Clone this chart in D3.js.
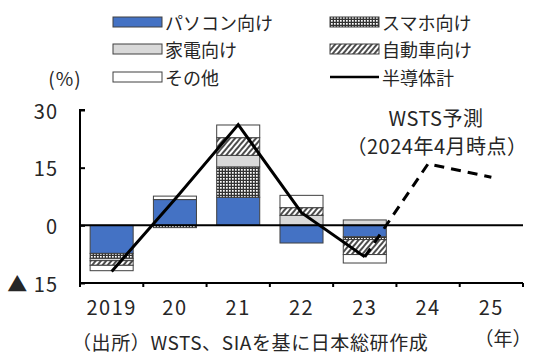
<!DOCTYPE html>
<html>
<head>
<meta charset="utf-8">
<style>
  body { margin: 0; background: #fff; }
  text { font-family: "Noto Sans CJK JP", "Noto Sans", sans-serif; fill: #262626; }
</style>
</head>
<body>
<script src="https://cdn.jsdelivr.net/npm/d3@7"></script>
<script>
var years = ['2019', '20', '21', '22', '23', '24', '25'];
var pcValues = [-7.3, 6.7, 7.3, -4.6, -3.0, 0, 0];
var phoneValues = [-1.3, -0.6, 7.9, 0, -0.7, 0, 0];
var applianceValues = [-0.6, 0, 3.0, 2.6, 1.4, 0, 0];
var autoValues = [-1.2, 0, 4.6, 2.0, -3.9, 0, 0];
var otherValues = [-1.4, 0.9, 3.3, 3.2, -2.2, 0, 0];
var totalValues = [-12.0, 6.8, 26.2, 3.3, -8.2, 16.0, 12.5];
var yTicks = [30, 15, 0, -15];
var yTickLabels = ['30', '15', '0', '▲ 15'];
var seriesNames = ['パソコン向け', 'スマホ向け', '家電向け', '自動車向け', 'その他', '半導体計'];
var keys = ['pc', 'phone', 'appliance', 'auto', 'other'];

var width = 534, height = 357;
var svg = d3.select('body').append('svg')
    .attr('width', width).attr('height', height);

var defs = svg.append('defs');
var dots = defs.append('pattern').attr('id', 'dots')
    .attr('patternUnits', 'userSpaceOnUse').attr('width', 3).attr('height', 3);
dots.append('rect').attr('width', 3).attr('height', 3).attr('fill', '#333');
dots.append('rect').attr('x', 1).attr('y', 1).attr('width', 1.7).attr('height', 1.7).attr('fill', '#fff');

var hatch = defs.append('pattern').attr('id', 'hatch')
    .attr('patternUnits', 'userSpaceOnUse').attr('width', 4).attr('height', 4)
    .attr('patternTransform', 'rotate(40)');
hatch.append('rect').attr('width', 4).attr('height', 4).attr('fill', '#fff');
hatch.append('line').attr('x1', 1).attr('y1', 0).attr('x2', 1).attr('y2', 4)
    .attr('stroke', '#000').attr('stroke-width', 1.4);

var fills = {
    pc: '#4472c4',
    phone: 'url(#dots)',
    appliance: '#d9d9d9',
    auto: 'url(#hatch)',
    other: '#ffffff'
};

var plot = { left: 80, right: 523, top: 110, bottom: 283 };

var x = d3.scaleBand().domain(years).range([plot.left, plot.right]).padding(0);
var y = d3.scaleLinear().domain([-15, 30]).range([plot.bottom, plot.top]);

var table = years.map(function (yr, i) {
    return { year: yr, pc: pcValues[i], phone: phoneValues[i], appliance: applianceValues[i],
             auto: autoValues[i], other: otherValues[i] };
});
var stacked = d3.stack().keys(keys).offset(d3.stackOffsetDiverging)(table);

var barW = x.bandwidth() * 0.68;
svg.append('g').selectAll('g')
    .data(stacked).enter().append('g')
    .attr('fill', function (d) { return fills[d.key]; })
    .selectAll('rect')
    .data(function (d) { return d.filter(function (p) { return p[1] - p[0] !== 0; }); })
    .enter().append('rect')
    .attr('x', function (d) { return x(d.data.year) + (x.bandwidth() - barW) / 2; })
    .attr('y', function (d) { return y(d[1]); })
    .attr('width', barW)
    .attr('height', function (d) { return y(d[0]) - y(d[1]); })
    .attr('stroke', '#404040').attr('stroke-width', 1);

// axes
svg.append('line')
    .attr('x1', plot.left).attr('x2', plot.right)
    .attr('y1', y(0)).attr('y2', y(0))
    .attr('stroke', '#000').attr('stroke-width', 2);

var yAxis = svg.append('g').attr('transform', 'translate(' + plot.left + ',0)')
    .call(d3.axisRight(y).tickValues(yTicks).tickSize(5).tickFormat(''));
yAxis.selectAll('path, line').attr('stroke', '#000').attr('stroke-width', 2);
yAxis.select('.domain').attr('d', 'M5,' + plot.top + 'H0V' + plot.bottom);

svg.append('g').selectAll('text')
    .data(yTicks).enter().append('text')
    .attr('x', 58).attr('y', function (d) { return y(d); })
    .attr('text-anchor', 'end').attr('dominant-baseline', 'central')
    .style('font-size', '20px').style('letter-spacing', '1px')
    .text(function (d, i) { return yTickLabels[i]; });

var bounds = years.map(function (yr) { return x(yr); }).concat([plot.right]);
var xAxis = svg.append('g');
xAxis.append('line')
    .attr('x1', plot.left).attr('x2', plot.right)
    .attr('y1', plot.bottom).attr('y2', plot.bottom)
    .attr('stroke', '#000').attr('stroke-width', 2);
xAxis.selectAll('.tick').data(bounds).enter().append('line')
    .attr('x1', function (d) { return d; }).attr('x2', function (d) { return d; })
    .attr('y1', plot.bottom).attr('y2', plot.bottom + 4)
    .attr('stroke', '#000').attr('stroke-width', 2);

svg.append('g').selectAll('text')
    .data(years).enter().append('text')
    .attr('x', function (d) { return x(d) + x.bandwidth() / 2; })
    .attr('y', 306)
    .attr('text-anchor', 'middle').attr('dominant-baseline', 'central')
    .style('font-size', '20px').style('letter-spacing', '1.5px')
    .text(function (d) { return d; });

// total line
var line = d3.line()
    .x(function (d, i) { return x(years[i]) + x.bandwidth() / 2; })
    .y(function (d) { return y(d); });
svg.append('path')
    .attr('d', line(totalValues.slice(0, 5)))
    .attr('fill', 'none').attr('stroke', '#000').attr('stroke-width', 3);
var forecastLine = d3.line()
    .x(function (d, i) { return x(years[i + 4]) + x.bandwidth() / 2; })
    .y(function (d) { return y(d); });
svg.append('path')
    .attr('d', forecastLine(totalValues.slice(4)))
    .attr('fill', 'none').attr('stroke', '#000').attr('stroke-width', 3)
    .attr('stroke-dasharray', '10,7');

// annotations
svg.append('text').attr('x', 436).attr('y', 117)
    .attr('text-anchor', 'middle').attr('dominant-baseline', 'central')
    .style('font-size', '20px').style('letter-spacing', '0.5px').text('WSTS予測');
svg.append('text').attr('x', 437).attr('y', 145)
    .attr('text-anchor', 'middle').attr('dominant-baseline', 'central')
    .style('font-size', '20px').style('letter-spacing', '0.5px').text('（2024年4月時点）');

svg.append('text').attr('x', 65).attr('y', 77)
    .attr('text-anchor', 'middle').attr('dominant-baseline', 'central')
    .style('font-size', '19px').style('letter-spacing', '1px').text('(%)');
svg.append('text').attr('x', 503).attr('y', 337)
    .attr('text-anchor', 'middle').attr('dominant-baseline', 'central')
    .style('font-size', '19px').text('（年）');
svg.append('text').attr('x', 72).attr('y', 341)
    .attr('dominant-baseline', 'central')
    .style('font-size', '19px').style('letter-spacing', '0.6px')
    .text('（出所）WSTS、SIAを基に日本総研作成');

// legend
var legendItems = [
    { name: seriesNames[0], key: 'pc', x: 113, y: 22 },
    { name: seriesNames[1], key: 'phone', x: 330, y: 22 },
    { name: seriesNames[2], key: 'appliance', x: 113, y: 49 },
    { name: seriesNames[3], key: 'auto', x: 330, y: 49 },
    { name: seriesNames[4], key: 'other', x: 113, y: 77 },
    { name: seriesNames[5], key: 'total', x: 330, y: 77 }
];
var legend = svg.append('g').selectAll('g')
    .data(legendItems).enter().append('g')
    .attr('transform', function (d) { return 'translate(' + d.x + ',' + d.y + ')'; });
legend.each(function (d) {
    var g = d3.select(this);
    if (d.key === 'total') {
        g.append('line').attr('x1', 0).attr('x2', 49).attr('y1', 0).attr('y2', 0)
            .attr('stroke', '#000').attr('stroke-width', 2.5);
    } else {
        g.append('rect').attr('x', 0).attr('y', -5).attr('width', 49).attr('height', 10)
            .attr('fill', fills[d.key]).attr('stroke', '#404040').attr('stroke-width', 1);
    }
});
legend.append('text')
    .attr('x', 52).attr('y', 0).attr('dominant-baseline', 'central')
    .style('font-size', '18px')
    .text(function (d) { return d.name; });
</script>
</body>
</html>
